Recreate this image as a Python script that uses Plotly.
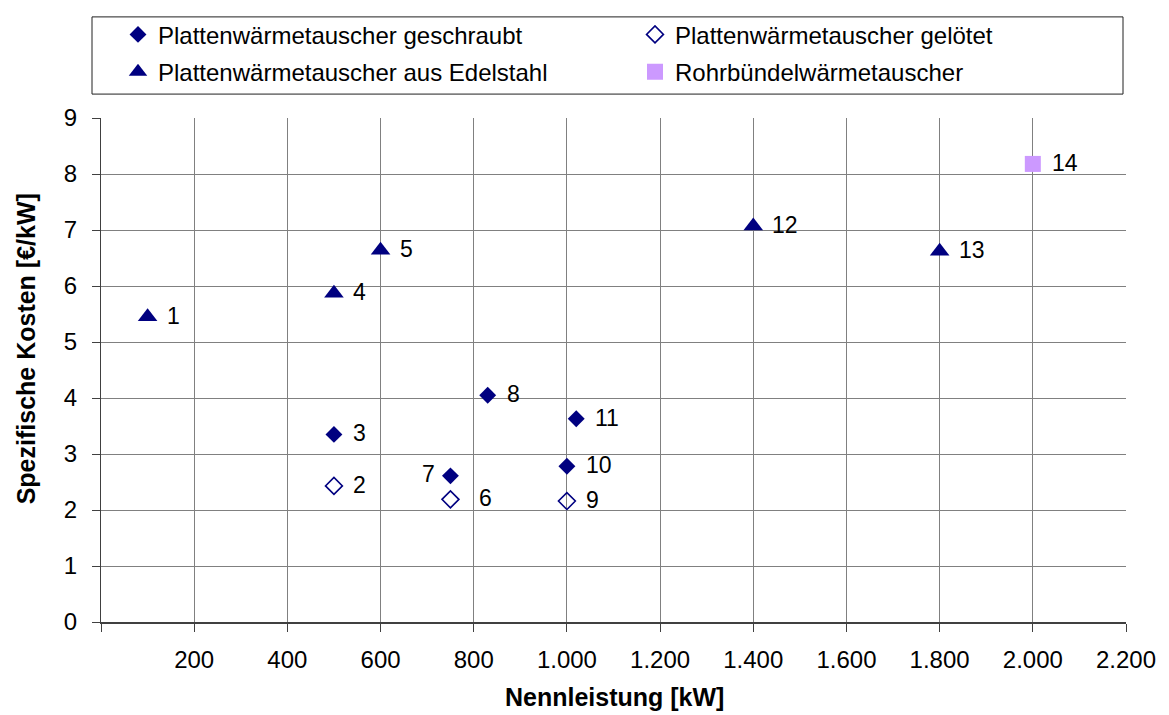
import plotly.graph_objects as go

# ---- data ----
geschraubt_x = [500, 750, 830, 1000, 1020]
geschraubt_y = [3.35, 2.61, 4.05, 2.78, 3.63]
geschraubt_lbl = ["3", "7", "8", "10", "11"]

geloetet_x = [500, 750, 1000]
geloetet_y = [2.43, 2.19, 2.16]
geloetet_lbl = ["2", "6", "9"]

edelstahl_x = [100, 500, 600, 1400, 1800]
edelstahl_y = [5.45, 5.87, 6.64, 7.07, 6.62]
edelstahl_lbl = ["1", "4", "5", "12", "13"]

rohr_x = [2000]
rohr_y = [8.18]
rohr_lbl = ["14"]

x_tickvals = [0, 200, 400, 600, 800, 1000, 1200, 1400, 1600, 1800, 2000, 2200]
x_ticktext = ["", "200", "400", "600", "800", "1.000", "1.200", "1.400", "1.600", "1.800", "2.000", "2.200"]
y_tickvals = [0, 1, 2, 3, 4, 5, 6, 7, 8, 9]

NAVY = "#000080"
LILA = "#CC99FF"
FONT = "Arial, Liberation Sans, sans-serif"

fig = go.Figure()

fig.add_trace(go.Scatter(x=geschraubt_x, y=geschraubt_y, mode="markers",
                         name="Plattenwärmetauscher geschraubt",
                         marker=dict(symbol="diamond", size=13, color=NAVY),
                         legend="legend"))
fig.add_trace(go.Scatter(x=geloetet_x, y=geloetet_y, mode="markers",
                         name="Plattenwärmetauscher gelötet",
                         marker=dict(symbol="diamond-open", size=13, color=NAVY,
                                     line=dict(width=1.6, color=NAVY)),
                         legend="legend2"))
fig.add_trace(go.Scatter(x=edelstahl_x, y=edelstahl_y, mode="markers",
                         name="Plattenwärmetauscher aus Edelstahl",
                         marker=dict(symbol="triangle-up", size=17, color=NAVY),
                         legend="legend3"))
fig.add_trace(go.Scatter(x=rohr_x, y=rohr_y, mode="markers",
                         name="Rohrbündelwärmetauscher",
                         marker=dict(symbol="square", size=16, color=LILA),
                         legend="legend4"))

# point labels
annotations = []
LBL_FONT = dict(size=23, color="black", family=FONT)
def add_labels(xs, ys, lbls):
    for xv, yv, t in zip(xs, ys, lbls):
        if t == "7":
            annotations.append(dict(x=xv, y=yv, xref="x", yref="y", text=t, showarrow=False,
                                    xanchor="right", xshift=-13, yshift=2, font=LBL_FONT))
        else:
            shift = 27 if t == "6" else 17
            annotations.append(dict(x=xv, y=yv, xref="x", yref="y", text=t, showarrow=False,
                                    xanchor="left", xshift=shift, yshift=1, font=LBL_FONT))

add_labels(geschraubt_x, geschraubt_y, geschraubt_lbl)
add_labels(geloetet_x, geloetet_y, geloetet_lbl)
add_labels(edelstahl_x, edelstahl_y, edelstahl_lbl)
add_labels(rohr_x, rohr_y, rohr_lbl)

W, H = 1169, 715
L, R, T, B = 101, 43, 110, 93
pw, ph = W - L - R, H - T - B

def px_x(p):
    return (p - L) / pw

def px_y(p):
    return (H - B - p) / ph

# axis titles
TITLE_FONT = dict(size=25, color="black", family=FONT)
annotations.append(dict(x=px_x(614), y=px_y(698), xref="paper", yref="paper",
                        text="<b>Nennleistung [kW]</b>",
                        showarrow=False, xanchor="center", yanchor="middle", font=TITLE_FONT))
annotations.append(dict(x=px_x(26), y=px_y(345), xref="paper", yref="paper",
                        text="<b>Spezifische Kosten [€/kW]</b>",
                        showarrow=False, xanchor="center", yanchor="middle", textangle=-90,
                        font=TITLE_FONT))

leg_common = dict(orientation="h", bgcolor="rgba(0,0,0,0)", borderwidth=0,
                  font=dict(size=24, color="black", family=FONT),
                  xanchor="left", yanchor="middle", itemsizing="trace")

fig.update_layout(
    width=W, height=H,
    margin=dict(l=L, r=R, t=T, b=B, pad=0),
    paper_bgcolor="white", plot_bgcolor="white",
    font=dict(family=FONT, size=24, color="black"),
    showlegend=True,
    legend=dict(x=px_x(118), y=px_y(25.5), **leg_common),
    legend2=dict(x=px_x(635), y=px_y(25.5), **leg_common),
    legend3=dict(x=px_x(118), y=px_y(63.5), **leg_common),
    legend4=dict(x=px_x(635), y=px_y(63.5), **leg_common),
    annotations=annotations,
    shapes=[dict(type="rect", xref="paper", yref="paper",
                 x0=px_x(92), x1=px_x(1123), y0=px_y(85.7), y1=px_y(7.3),
                 line=dict(color="#202020", width=1), fillcolor="rgba(0,0,0,0)", layer="above")],
    xaxis=dict(range=[0, 2200], tickvals=x_tickvals, ticktext=x_ticktext,
               showgrid=True, gridcolor="#808080", gridwidth=1,
               showline=True, linecolor="#404040", linewidth=2, mirror=False,
               ticks="outside", ticklen=8, tickcolor="#404040", tickwidth=1,
               ticklabelstandoff=7, zeroline=False,
               tickfont=dict(size=24, family=FONT, color="black")),
    yaxis=dict(range=[0, 9], tickvals=y_tickvals,
               showgrid=True, gridcolor="#808080", gridwidth=1,
               showline=True, linecolor="#404040", linewidth=1, mirror=False,
               ticks="outside", ticklen=8, tickcolor="#404040", tickwidth=1,
               ticklabelstandoff=10, zeroline=False,
               tickfont=dict(size=24, family=FONT, color="black")),
)

fig.write_html("out.html")
